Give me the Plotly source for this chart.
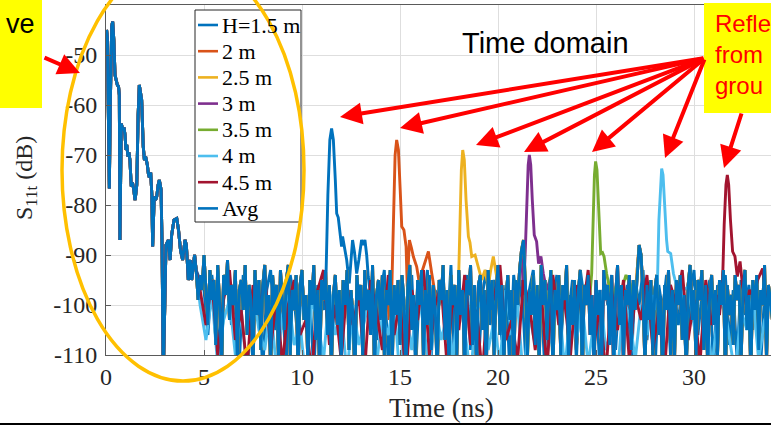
import numpy as np
import plotly.graph_objects as go

# ---------------- data ----------------
names = ["H=1.5 m", "2 m", "2.5 m", "3 m", "3.5 m", "4 m", "4.5 m", "Avg"]
colors = ["#0072BD", "#D95319", "#EDB120", "#7E2F8E", "#77AC30", "#4DBEEE", "#A2142F", "#0072BD"]
x_ticks = [0, 5, 10, 15, 20, 25, 30]
y_ticks = [-110, -100, -90, -80, -70, -60, -50, -40]
y_tick_text = ["-110", "-100", "-90", "-80", "-70", "-60", "-50", "-40"]

# shared early-time response (identical for all heights), ns / dB
early_t = [0.00, 0.03, 0.07, 0.12, 0.17, 0.22, 0.29, 0.34, 0.40, 0.46, 0.51, 0.58, 0.64, 0.68,
           0.71, 0.75, 0.78, 0.86, 0.92, 0.97, 1.02, 1.06, 1.12, 1.17, 1.22, 1.29, 1.35, 1.42,
           1.48, 1.53, 1.57, 1.64, 1.70, 1.76, 1.82, 1.90, 1.96, 2.02, 2.07, 2.11, 2.16, 2.21,
           2.28, 2.34, 2.38, 2.43, 2.46, 2.53, 2.59, 2.66, 2.72, 2.77, 2.81, 2.86, 2.92, 3.00,
           3.06, 3.18, 3.27, 3.35, 3.47, 3.61, 3.70, 3.80, 3.91, 4.03, 4.10, 4.20, 4.30, 4.37,
           4.45, 4.52, 4.60]
early_v = [-48.5, -45.0, -46.5, -60, -76.7, -60, -44.3, -43.3, -47, -54, -55, -56, -56.3, -58,
           -87, -70, -63.7, -65, -64.5, -66, -69, -68, -70.3, -69.5, -71, -76.3, -75.5, -77,
           -79, -77.5, -76, -62, -56, -57.5, -59, -68.3, -71, -70.3, -71, -72, -73.7, -74.5,
           -73.5, -78, -88.3, -80, -78.3, -79, -78.3, -76, -75, -76, -77, -88, -115, -100,
           -88, -87, -91, -86, -83, -82.7, -85, -89, -91, -87, -88, -95, -91, -95,
           -92, -90, -93]

# common noise floor after 4.7 ns (0.1 ns step) - Avg trace and the shared floor
floor_t0 = 4.7
floor_dt = 0.1
floor_v = [-99, -94, -97,
    -90, -96, -104, -93, -99, -95, -108, -92, -100, -113,
    -94, -98, -91, -103, -96, -100, -93, -112, -97, -95,
    -101, -92, -106, -96, -99, -114, -93, -102, -95, -109,
    -96, -92, -104, -98, -113, -94, -100, -96, -111, -93,
    -99, -105, -95, -92, -110, -97, -101, -94, -115, -96,
    -93, -103, -98, -112, -95, -100, -92, -107, -97, -114,
    -95, -99, -93, -106, -96, -113, -98, -94, -104, -97,
    -112, -95, -100, -93, -109, -97, -102, -115, -94, -99,
    -96, -111, -93, -101, -97, -106, -92, -114, -98, -95,
    -103, -94, -110, -97, -100, -93, -113, -96, -102, -95,
    -108, -94, -99, -115, -96, -92, -105, -98, -111, -95,
    -100, -93, -112, -97, -104, -94, -109, -96, -101, -114,
    -95, -99, -92, -107, -97, -113, -94, -100, -96, -110,
    -93, -102, -97, -115, -95, -98, -92, -108, -99, -112,
    -96, -94, -105, -97, -114, -93, -101, -95, -110, -98,
    -92, -106, -96, -112, -99, -94, -103, -97, -115, -95,
    -100, -93, -89, -87, -96, -111, -97, -102, -94, -108,
    -96, -113, -92, -100, -95, -107, -98, -93, -114, -97,
    -101, -94, -110, -96, -99, -92, -112, -98, -104, -95,
    -109, -97, -93, -115, -96, -100, -94, -106, -98, -113,
    -95, -102, -97, -111, -93, -99, -96, -108, -94, -114,
    -98, -92, -104, -96, -112, -97, -100, -94, -109, -95,
    -101, -93, -88, -90, -98, -113, -96, -103, -95, -110,
    -97, -94, -106, -99, -115, -96, -101, -93, -108, -97,
    -112, -95, -100, -94, -107, -98, -114, -96, -92, -103,
    -97, -111, -95, -99, -93, -109, -96, -113, -98, -94,
    -104, -97, -110, -95, -100, -93, -115, -96, -102, -98,
    -108, -94, -99, -96, -112, -97, -93, -105, -98, -114,
    -95, -101, -94, -109, -97, -100, -92, -111, -96, -99,
    -103]

# heights whose floor departs visibly from the common one (start 4.8 ns)
own_t0 = 4.8
own_15_dt = 0.2
own_15 = [-95,
    -97, -106, -94, -101, -110, -96, -93, -104, -99, -112, -94, -100, -108, -95, -98,
    -113, -97, -93, -105, -96, -101, -111, -94, -99, -107, -95, -103, -97, -114, -96,
    -100, -98, -93, -96, -104, -97, -102, -95, -109, -93, -111, -96, -100, -94, -107,
    -98, -93, -112, -97, -101, -95, -108, -99, -94, -113, -96, -102, -93, -110, -97,
    -100, -95, -106, -92, -114, -97, -101, -94, -109, -96, -112, -98, -93, -104, -95,
    -99, -107, -96, -113, -94, -101, -95, -110, -97, -93, -105, -98, -114, -96, -100,
    -94, -108, -97, -102, -95, -111, -93, -99, -96, -106, -98, -113, -95, -100, -94,
    -109, -97, -103, -96, -112, -95, -100, -93, -107, -98, -114, -96, -101, -94, -110,
    -97, -104, -95, -112, -99, -93, -106, -98, -101, -95, -113, -96, -100, -94, -108,
    -97, -111, -95, -102, -96, -105, -94, -112, -98, -100, -101]
own_dt = 0.3
own_4 = [-100, -107, -98, -112, -103, -99, -110, -101, -114, -97,
    -105, -109, -100, -113, -102, -98, -108, -104, -115, -99,
    -103, -111, -97, -106, -101, -114, -100, -108, -103, -98,
    -112, -102, -106, -99, -115, -101, -109, -97, -104, -113,
    -100, -107, -102, -111, -98, -105, -114, -101, -99, -109,
    -103, -112, -97, -106, -100, -115, -102, -108, -99, -110,
    -104, -98, -113, -101, -107, -100, -112, -103, -97, -109,
    -105, -114, -99, -102, -111, -100, -106, -98, -115, -103,
    -108, -101, -112, -97, -104, -110, -100, -113, -102, -99,
    -107, -114, -101, -105, -98, -111, -103, -100]
own_45 = [-97, -104, -95, -110, -99, -93, -107, -101, -113, -96,
    -102, -94, -109, -98, -112, -100, -95, -106, -103, -114,
    -97, -93, -108, -100, -111, -96, -104, -98, -113, -95,
    -101, -109, -94, -106, -99, -115, -97, -103, -93, -110,
    -100, -96, -112, -98, -105, -94, -108, -101, -114, -97,
    -99, -92, -107, -103, -111, -95, -100, -109, -97, -113,
    -94, -104, -99, -110, -96, -102, -93, -108, -100, -114,
    -97, -105, -95, -111, -98, -103, -94, -109, -101, -113,
    -96, -100, -93, -107, -99, -112, -95, -104, -98, -110,
    -94, -102, -97, -113, -100, -96, -108, -99]

# ground reflections (time ns, level dB)
pk15_t = [11.10, 11.22, 11.32, 11.42, 11.51, 11.60, 11.70, 11.77, 11.85, 11.92, 12.02, 12.07, 12.15,
          12.28, 12.41, 12.50, 12.58, 12.68, 12.79, 12.90, 13.04, 13.12, 13.21, 13.30, 13.38, 13.50]
pk15_v = [-101, -95, -78, -67, -64.7, -67, -75, -81.7, -82.5, -84.5, -88.3, -86.3, -88,
          -91, -95.7, -90, -87, -89.5, -93.7, -91, -87, -88, -87, -90, -94.3, -98]
pk2_t = [14.45, 14.58, 14.66, 14.75, 14.83, 14.92, 15.01, 15.09, 15.20, 15.31, 15.37, 15.48, 15.58,
         15.68, 15.85, 15.99, 16.15, 16.30, 16.45, 16.62, 16.80]
pk2_v = [-103, -97, -82, -70, -67, -69, -77, -84.3, -85, -88.3, -96.3, -87, -88.5,
         -90.3, -92.3, -95.7, -93, -91, -89.3, -93.7, -98]
pk25_t = [17.85, 17.98, 18.06, 18.13, 18.20, 18.28, 18.37, 18.49, 18.57, 18.66, 18.83, 19.00, 19.17,
          19.34, 19.50, 19.63, 19.76, 19.93, 20.05]
pk25_v = [-102, -96.3, -84, -73, -69, -71, -79, -86.3, -87.5, -90.3, -90, -92.3, -95,
          -93, -96.3, -93, -90.3, -94.3, -99]
pk3_t = [21.30, 21.40, 21.47, 21.54, 21.60, 21.67, 21.75, 21.85, 21.97, 22.07, 22.19, 22.31, 22.48,
         22.65, 22.82]
pk3_v = [-98, -88.3, -80, -72, -70, -72, -79, -86, -87.3, -91.7, -90.3, -93.7, -97, -95, -99]
pk35_t = [24.65, 24.78, 24.86, 24.92, 24.98, 25.05, 25.14, 25.24, 25.33, 25.41, 25.54, 25.71, 25.88,
          26.05, 26.22, 26.38, 26.53, 26.73, 26.90]
pk35_v = [-100, -93.7, -82, -74, -71.3, -73, -81, -89.7, -89.5, -90.3, -93.7, -97, -98.3,
          -96, -99, -96, -94, -95.7, -99]
pk4_t = [27.98, 28.13, 28.21, 28.29, 28.35, 28.42, 28.51, 28.60, 28.66, 28.81, 28.95, 29.12, 29.29,
         29.49, 29.70, 29.85]
pk4_v = [-101, -96.3, -83, -75, -72.7, -74, -81, -87, -89.3, -89.7, -93.7, -96.3, -99,
         -97, -96.3, -100]
pk45_t = [31.30, 31.46, 31.54, 31.63, 31.70, 31.77, 31.86, 31.97, 32.09, 32.21, 32.35, 32.48, 32.69,
          32.83, 33.03, 33.25, 33.50, 33.64, 33.80]
pk45_v = [-102, -95, -84, -76, -74, -76, -83, -89.3, -90.3, -94.3, -91.3, -96.3, -100.3,
          -97, -98.3, -95, -92.7, -97.7, -100]

floors = [(own_15, own_t0, own_15_dt), (floor_v, floor_t0, floor_dt), (floor_v, floor_t0, floor_dt),
          (floor_v, floor_t0, floor_dt), (floor_v, floor_t0, floor_dt), (own_4, own_t0, own_dt),
          (own_45, own_t0, own_dt)]
peaks = [(pk15_t, pk15_v), (pk2_t, pk2_v), (pk25_t, pk25_v), (pk3_t, pk3_v),
         (pk35_t, pk35_v), (pk4_t, pk4_v), (pk45_t, pk45_v)]


def build(vals, t0, dt, pt, pv):
    nt = t0 + dt * np.arange(len(vals))
    nv = np.array(vals, dtype=float)
    pt = np.array(pt); pv = np.array(pv, dtype=float)
    before = nt < pt[0]
    after = nt > pt[-1]
    t = np.concatenate([early_t, nt[before], pt, nt[after]])
    v = np.concatenate([early_v, nv[before], pv, nv[after]])
    return t, v


# ---------------- figure ----------------
W, H = 771, 426
L, R, T, B = 106, 0, 5, 71
PW, PH = W - L - R, H - T - B


def px(x):
    return (x - L) / PW


def py(y):
    return (T + PH - y) / PH


serif = "Liberation Serif"
sans = "Liberation Sans"
LW = 2.9

fig = go.Figure()
for i in range(7):
    vals, t0, dt = floors[i]
    t, v = build(vals, t0, dt, *peaks[i])
    fig.add_trace(go.Scatter(x=t, y=v, mode="lines", name=names[i],
                             line=dict(color=colors[i], width=LW)))
ta = np.concatenate([early_t, floor_t0 + floor_dt * np.arange(len(floor_v))])
va = np.concatenate([early_v, floor_v])
fig.add_trace(go.Scatter(x=ta, y=va, mode="lines", name=names[7],
                         line=dict(color=colors[7], width=LW)))

axcol = "#5a5a5a"
fig.update_layout(
    template="none",
    width=W, height=H, autosize=False,
    margin=dict(l=L, r=R, t=T, b=B, pad=0, autoexpand=False),
    paper_bgcolor="white", plot_bgcolor="white",
    font=dict(family=serif, color="#262626", size=24),
    xaxis=dict(range=[0, (W - L) / 19.6], tickvals=x_ticks, automargin=False,
               showgrid=True, gridcolor="#DEDEDE", gridwidth=1, zeroline=False,
               showline=True, linecolor=axcol, linewidth=1, mirror=True,
               ticks="inside", ticklen=5, tickcolor=axcol,
               tickfont=dict(family=serif, size=24, color="#262626")),
    yaxis=dict(range=[-110, -40], tickvals=y_ticks, ticktext=y_tick_text, automargin=False,
               showgrid=True, gridcolor="#DEDEDE", gridwidth=1, zeroline=False,
               showline=True, linecolor=axcol, linewidth=1, mirror=True,
               ticks="inside", ticklen=5, tickcolor=axcol, ticklabelstandoff=3,
               tickfont=dict(family=serif, size=24, color="#262626")),
    showlegend=False,
)

# legend box, drawn by hand so that rows match the reference spacing
leg_x0, leg_x1, leg_y0, leg_y1 = 195, 301, 10, 222
row_y0, row_dy = 25, 26.2
shapes = [
    dict(type="rect", xref="paper", yref="paper", x0=px(leg_x0), x1=px(leg_x1),
         y0=py(leg_y1), y1=py(leg_y0), fillcolor="white",
         line=dict(color="#262626", width=1), layer="above"),
]
for i in range(8):
    yy = row_y0 + row_dy * i
    shapes.append(dict(type="line", xref="paper", yref="paper", x0=px(198), x1=px(218),
                       y0=py(yy), y1=py(yy), line=dict(color=colors[i], width=2.6), layer="above"))
shapes += [
    dict(type="rect", xref="paper", yref="paper", x0=px(-5), x1=px(42), y0=py(108), y1=py(-5),
         fillcolor="#FFFF00", line=dict(width=0), layer="above"),
    dict(type="rect", xref="paper", yref="paper", x0=px(704), x1=px(800), y0=py(113), y1=py(3),
         fillcolor="#FFFF00", line=dict(width=0), layer="above"),
    dict(type="circle", xref="paper", yref="paper", x0=px(62), x1=px(304), y0=py(381), y1=py(-41),
         line=dict(color="#FFC000", width=3.5), fillcolor="rgba(0,0,0,0)", layer="above"),
    dict(type="line", xref="paper", yref="paper", x0=px(-10), x1=px(790), y0=py(424), y1=py(424),
         line=dict(color="black", width=2), layer="above"),
]
fig.update_layout(shapes=shapes)

ann = []
for i in range(8):
    yy = row_y0 + row_dy * i
    ann.append(dict(text=names[i], x=px(220), y=py(yy), xref="paper", yref="paper",
                    showarrow=False, xanchor="left", yanchor="middle",
                    font=dict(family=serif, size=22, color="black")))
ann += [
    dict(text="Time domain", x=px(545), y=py(43), xref="paper", yref="paper", showarrow=False,
         xanchor="center", yanchor="middle", font=dict(family=sans, size=29, color="black")),
    dict(text="ve", x=px(37), y=py(24), xref="paper", yref="paper", showarrow=False,
         xanchor="right", yanchor="middle", font=dict(family=sans, size=27, color="black")),
    dict(text="Refle<br>from<br>grou", x=px(713), y=py(8), xref="paper", yref="paper",
         showarrow=False, xanchor="left", yanchor="top", align="left",
         font=dict(family=sans, size=24, color="#FF0000")),
    dict(text="S<sub>11t</sub> (dB)", x=px(26), y=py(178), xref="paper", yref="paper",
         showarrow=False, textangle=-90, xanchor="center", yanchor="middle",
         font=dict(family=serif, size=24, color="#262626")),
    dict(text="Time (ns)", x=px(441), y=py(408), xref="paper", yref="paper", showarrow=False,
         xanchor="center", yanchor="middle", font=dict(family=serif, size=27, color="#262626")),
]

arrows = [((705, 58), (340, 117)), ((705, 58), (400, 128)), ((705, 58), (476, 145)),
          ((705, 58), (524, 152)), ((705, 58), (592, 152)), ((705, 58), (665, 158)),
          ((742, 112), (724, 168)), ((43, 57), (80, 73))]
for (tx, ty), (hx, hy) in arrows:
    ann.append(dict(text="", x=px(hx), y=py(hy), xref="paper", yref="paper",
                    showarrow=True, ax=tx - hx, ay=ty - hy, axref="pixel", ayref="pixel",
                    arrowhead=2, arrowsize=1.1, arrowwidth=4, arrowcolor="#FF0000", standoff=0))
fig.update_layout(annotations=ann)

fig.write_html("out.html", config={"displayModeBar": False},
               post_script="document.body.style.margin='0px';document.body.style.padding='0px';")
